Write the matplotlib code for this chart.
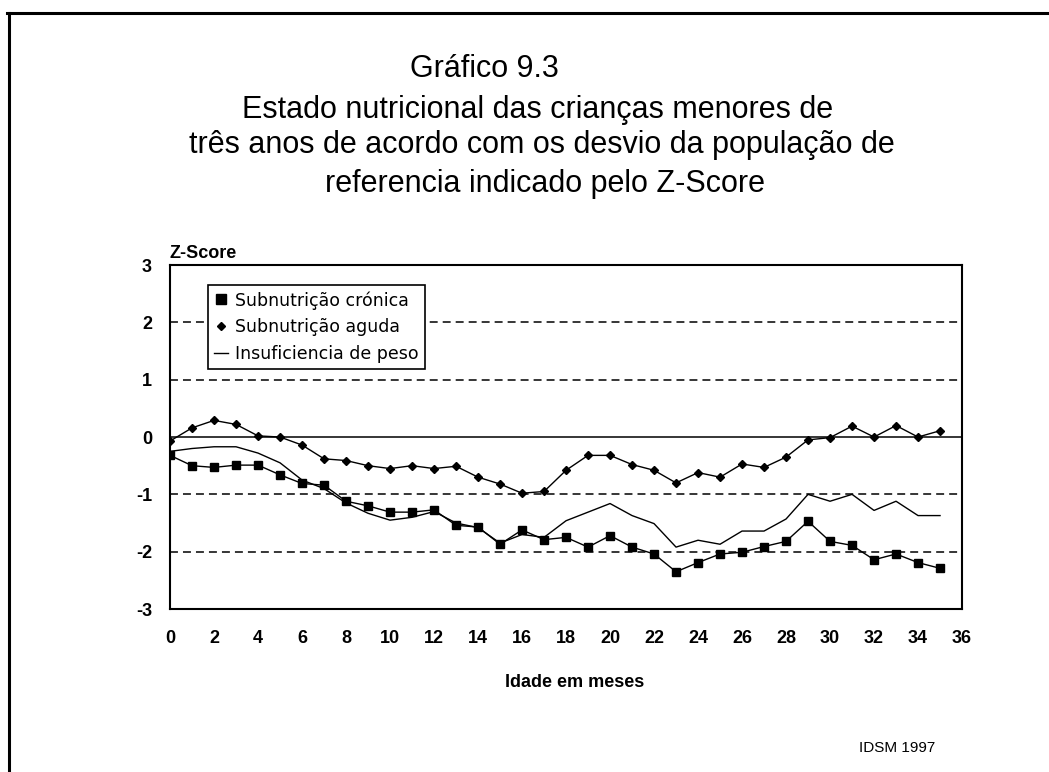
import matplotlib
matplotlib.use('Agg')
import matplotlib.pyplot as plt
import numpy as np
from matplotlib.lines import Line2D

plt.rcParams['font.family'] = ['Liberation Sans', 'DejaVu Sans']
plt.rcParams['axes.unicode_minus'] = False

# idade em meses
meses = list(range(36))

# Z-Score por mes
cronica = [-0.32, -0.50, -0.53, -0.49, -0.49, -0.66, -0.81, -0.84, -1.12, -1.20,
           -1.31, -1.31, -1.27, -1.54, -1.57, -1.87, -1.62, -1.79, -1.75, -1.92,
           -1.72, -1.92, -2.04, -2.35, -2.19, -2.04, -2.01, -1.91, -1.82, -1.47,
           -1.82, -1.89, -2.14, -2.04, -2.19, -2.29]
aguda = [-0.07, 0.16, 0.29, 0.22, 0.02, 0.00, -0.14, -0.38, -0.41, -0.50,
         -0.55, -0.50, -0.55, -0.51, -0.70, -0.82, -0.98, -0.95, -0.58, -0.32,
         -0.32, -0.48, -0.58, -0.80, -0.62, -0.70, -0.47, -0.53, -0.35, -0.05,
         -0.01, 0.19, 0.00, 0.20, 0.00, 0.11]
peso = [-0.25, -0.20, -0.17, -0.17, -0.28, -0.45, -0.75, -0.90, -1.15, -1.33,
        -1.45, -1.40, -1.30, -1.50, -1.58, -1.85, -1.70, -1.75, -1.46, -1.31,
        -1.16, -1.37, -1.51, -1.92, -1.80, -1.87, -1.64, -1.64, -1.43, -1.00,
        -1.12, -1.00, -1.28, -1.12, -1.37, -1.37]

legendas = ['Subnutrição crónica', 'Subnutrição aguda', 'Insuficiencia de peso']
xticks = list(range(0, 37, 2))
yticks = [-3, -2, -1, 0, 1, 2, 3]

fig = plt.figure(figsize=(10.49, 7.72), dpi=100)
ax = fig.add_axes([0.1621, 0.2111, 0.755, 0.4456])

# linhas de grade
for y in [2, 1, -1, -2]:
    ax.axhline(y, color='black', lw=1.1, ls=(0, (5.2, 3.3)), zorder=1)
ax.axhline(0, color='black', lw=1.1, zorder=1)

ax.plot(meses, peso, color='black', lw=1.0, zorder=2)
ax.plot(meses, aguda, color='black', lw=1.0, marker='D', ms=4, zorder=3)
ax.plot(meses, cronica, color='black', lw=1.0, marker='s', ms=6, zorder=4)

ax.set_xlim(0, 36)
ax.set_ylim(-3, 3)
ax.set_xticks(xticks)
ax.set_yticks(yticks)
ax.tick_params(length=0)
ax.tick_params(axis='x', pad=15)
ax.tick_params(axis='y', pad=13)
for lab in ax.get_xticklabels() + ax.get_yticklabels():
    lab.set_fontweight('bold')
    lab.set_fontsize(13)
for s in ax.spines.values():
    s.set_linewidth(1.5)

handles = [Line2D([], [], color='black', marker='s', ms=6.5, ls='none'),
           Line2D([], [], color='black', marker='D', ms=4, ls='none'),
           Line2D([], [], color='black', lw=1.0)]
leg = ax.legend(handles, legendas, loc='upper left', bbox_to_anchor=(0.048, 0.942),
                fancybox=False, framealpha=1, edgecolor='black', handlelength=0.8,
                handletextpad=0.4, borderpad=0.35, labelspacing=0.5, borderaxespad=0,
                prop={'family': 'DejaVu Sans', 'size': 12.5})
leg.get_frame().set_linewidth(1.2)

fig.text(170 / 1049, 1 - 258 / 772, 'Z-Score', fontsize=13, fontweight='bold',
         ha='left', va='baseline')
fig.text(575 / 1049, 1 - 687 / 772, 'Idade em meses', fontsize=13, fontweight='bold',
         ha='center', va='baseline')

# titulo
fig.text(484 / 1049, 1 - 77 / 772, 'Gráfico 9.3', fontsize=22, ha='center', va='baseline')
fig.text(538 / 1049, 1 - 118 / 772, 'Estado nutricional das crianças menores de',
         fontsize=22, ha='center', va='baseline')
fig.text(542 / 1049, 1 - 153 / 772, 'três anos de acordo com os desvio da população de',
         fontsize=22, ha='center', va='baseline')
fig.text(545 / 1049, 1 - 192 / 772, 'referencia indicado pelo Z-Score',
         fontsize=22, ha='center', va='baseline')

fig.text(897 / 1049, 1 - 752 / 772, 'IDSM 1997', fontsize=11, ha='center', va='baseline')

# moldura
fig.add_artist(Line2D([8.5 / 1049, 8.5 / 1049], [0, 1 - 12.5 / 772], color='black', lw=2.2,
                      transform=fig.transFigure))
fig.add_artist(Line2D([7 / 1049, 1], [1 - 12.5 / 772, 1 - 12.5 / 772], color='black', lw=2.2,
                      transform=fig.transFigure))

fig.savefig('out.png', dpi=100)
